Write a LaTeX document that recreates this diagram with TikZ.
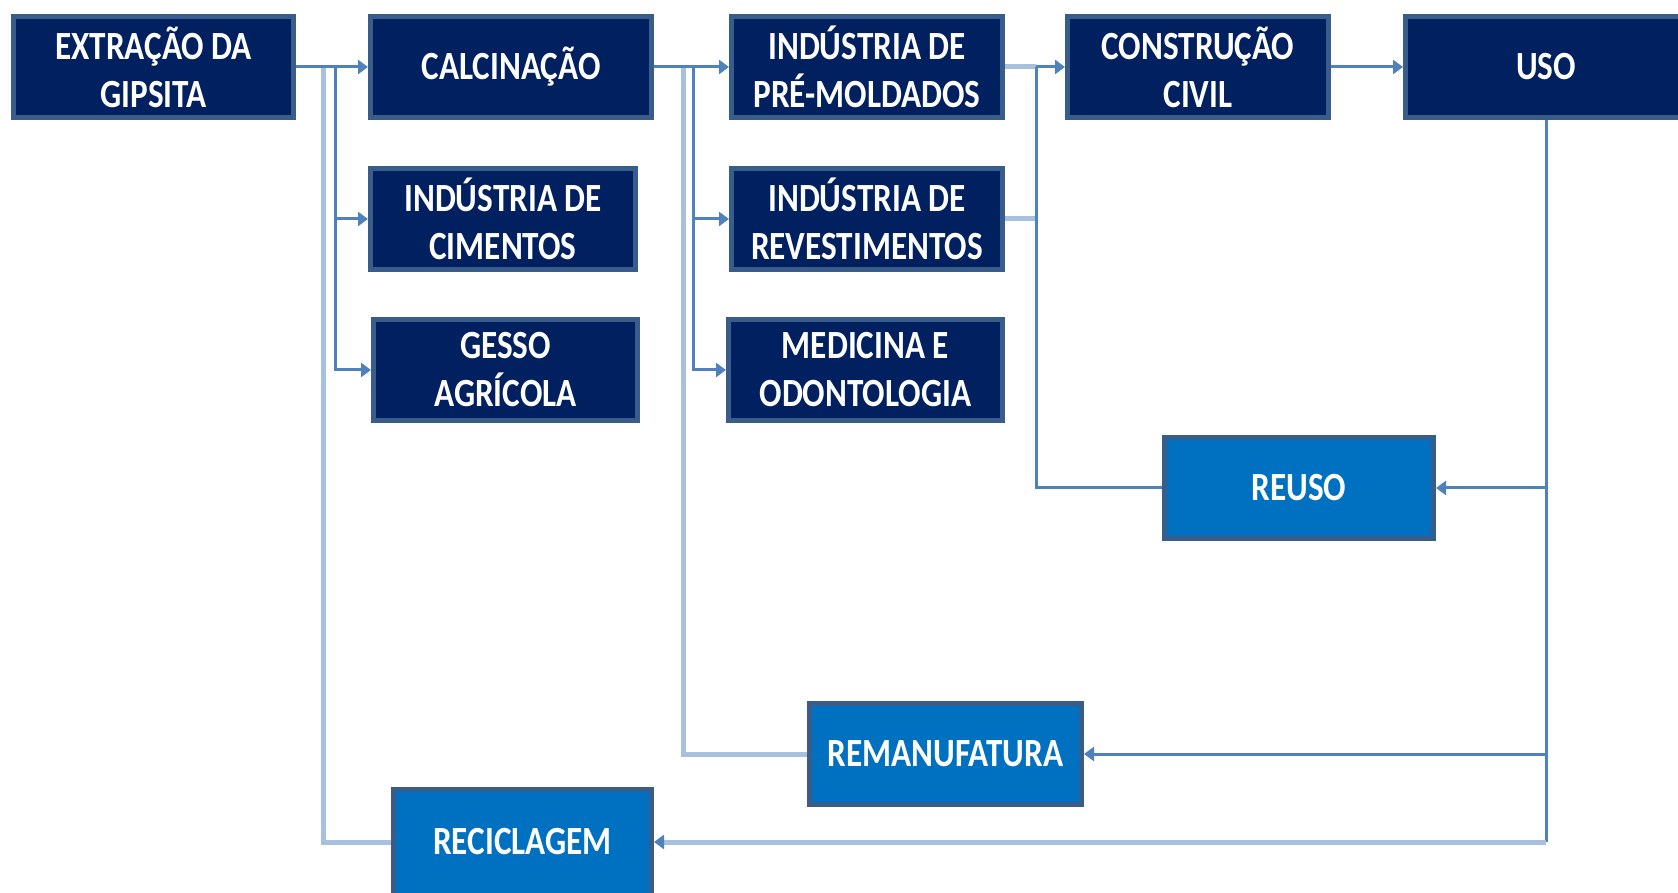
\documentclass[tikz,border=0pt]{standalone}
\usepackage{fontspec}
\setmainfont{Carlito}[FakeStretch=0.83]
\usetikzlibrary{arrows.meta}
\definecolor{gipsnavy}{RGB}{0,32,96}
\definecolor{gipsborder}{RGB}{56,93,138}
\definecolor{gipsblue}{RGB}{0,112,192}
\definecolor{gipsline}{RGB}{79,129,189}
\definecolor{gipslight}{RGB}{167,192,222}
\tikzset{
  darkbox/.style={draw=gipsborder, line width=2.5pt, fill=gipsnavy, text=white,
    align=center, inner sep=0pt, minimum height=50.5pt,
    font=\fontsize{20pt}{24pt}\selectfont\bfseries},
  lightbox/.style={darkbox, fill=gipsblue},
  flow/.style={draw=gipsline, line width=1.5pt},
  flowlight/.style={draw=gipslight, line width=2.5pt},
  tip/.style={-{Triangle[length=5pt,width=7pt,color=gipsline]}}
}
\begin{document}
\begin{tikzpicture}[x=0.5pt, y=-0.5pt]
        \useasboundingbox (0,0) rectangle (1678,893);
        % Boxes of the chain
        \node[darkbox, minimum width=140pt] (ext) at (153.5,67) {EXTRAÇÃO DA\\GIPSITA};
        \node[darkbox, minimum width=140.5pt] (cal) at (511,67) {CALCINAÇÃO};
        \node[darkbox, minimum width=132.5pt] (cim) at (503,219) {INDÚSTRIA DE\\CIMENTOS};
        \node[darkbox, minimum width=132pt] (ges) at (505.5,370) {GESSO\\AGRÍCOLA};
        \node[darkbox, minimum width=135.5pt] (pre) at (867,67) {INDÚSTRIA DE\\PRÉ-MOLDADOS};
        \node[darkbox, minimum width=135.5pt] (rev) at (867,219) {INDÚSTRIA DE\\REVESTIMENTOS};
        \node[darkbox, minimum width=137pt] (med) at (865.5,370) {MEDICINA E\\ODONTOLOGIA};
        \node[darkbox, minimum width=130.5pt] (con) at (1198,67) {CONSTRUÇÃO\\CIVIL};
        \node[darkbox, minimum width=140.5pt] (uso) at (1546,67) {USO};
        
        % Return boxes
        \node[lightbox, minimum width=134.5pt] (reu) at (1299,488) {REUSO};
        \node[lightbox, minimum width=136pt] (rem) at (945.5,754) {REMANUFATURA};
        \node[lightbox, minimum width=129pt, minimum height=53pt] (rec) at (522.5,842) {RECICLAGEM};
        
        % Branch points
        \coordinate (extback) at (323,67);
        \coordinate (extfork) at (335,67);
        \coordinate (calback) at (683,67);
        \coordinate (calfork) at (693,67);
        \coordinate (confork) at (1036,67);
        \coordinate (usobase) at (1546,842);
        
        % Light return lines
        \draw[flowlight] (rec.west) -| (extback);
        \draw[flowlight] (rem.west) -| (calback);
        \draw[flowlight] (pre.east) -- (confork);
        \draw[flowlight] (rev.east) -- (rev.east -| confork);
        
        % Forward flow
        \draw[flow, tip] (ext.east) -- (cal.west);
        \draw[flow, tip] (extfork) |- (cim.west);
        \draw[flow, tip] (extfork) |- (ges.west);
        \draw[flow, tip] (cal.east) -- (pre.west);
        \draw[flow, tip] (calfork) |- (rev.west);
        \draw[flow, tip] (calfork) |- (med.west);
        \draw[flow] (reu.west) -| (confork);
        \draw[flow, tip] (confork) -- (con.west);
        \draw[flow, tip] (con.east) -- (uso.west);
        
        % From USO back down
        \draw[flow] (uso.south) -- (usobase);
        \draw[flow, tip] (uso.south |- reu.east) -- (reu.east);
        \draw[flow, tip] (uso.south |- rem.east) -- (rem.east);
        \draw[flowlight, tip] (usobase) -- (rec.east);
    \end{tikzpicture}
\end{document}
